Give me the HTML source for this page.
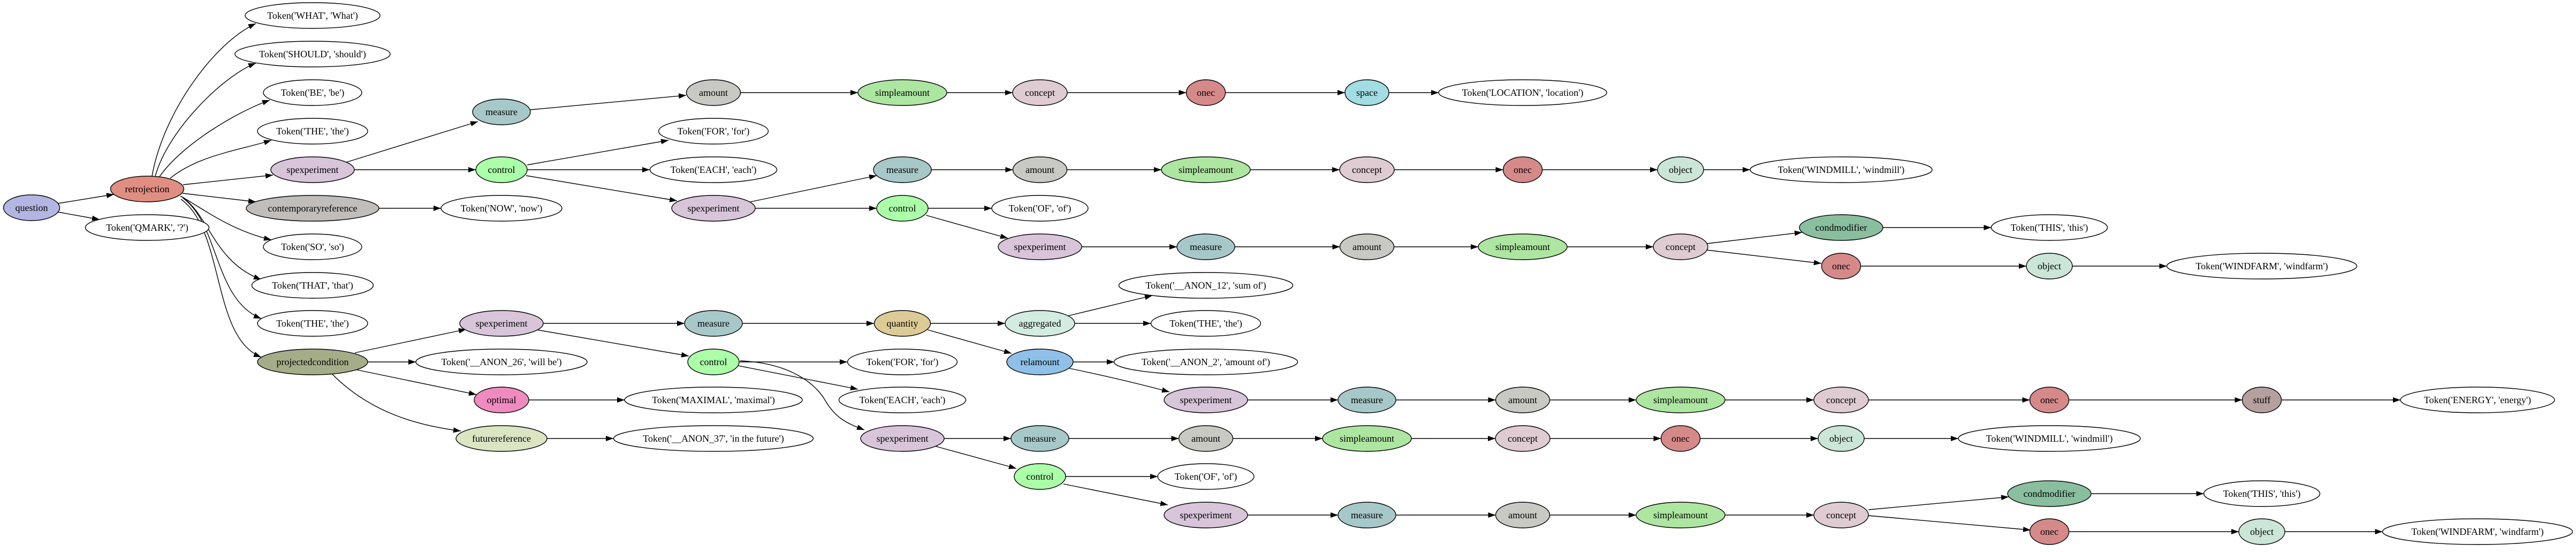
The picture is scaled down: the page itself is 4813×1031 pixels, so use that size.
<!DOCTYPE html>
<html><head><meta charset="utf-8"><style>
html,body{margin:0;padding:0;background:#fff;}
svg{display:block;}
text{font-family:"Liberation Serif",serif;font-size:18px;text-anchor:middle;fill:#000;}
ellipse{stroke:#000;stroke-width:1.4;}
path.e,line{stroke:#000;stroke-width:1.4;fill:none;}
</style></head><body>
<svg width="4813" height="1031" viewBox="0 0 4813 1031" xmlns="http://www.w3.org/2000/svg">
<defs><marker id="a" viewBox="0 0 14 10" refX="14" refY="5" markerWidth="14" markerHeight="10" markerUnits="userSpaceOnUse" orient="auto"><path d="M0,0L14,5L0,10z" fill="#000"/></marker></defs>
<g marker-end="url(#a)">
<line x1="108" y1="380" x2="213" y2="363"/>
<line x1="108" y1="396" x2="186" y2="410"/>
<path class="e" d="M284,329 C305,210 400,80 478,44"/>
<path class="e" d="M290,329 C315,240 420,140 478,118"/>
<path class="e" d="M298,330 C340,270 440,210 504,187"/>
<path class="e" d="M318,333 C370,290 450,280 507,262"/>
<line x1="342" y1="345" x2="510" y2="327"/>
<line x1="341" y1="361" x2="478" y2="377"/>
<path class="e" d="M337,366 C380,390 430,430 507,448"/>
<path class="e" d="M340,368 C390,400 400,490 488,522"/>
<path class="e" d="M342,370 C410,420 400,560 488,595"/>
<path class="e" d="M338,372 C420,430 395,630 488,667"/>
<line x1="647" y1="303" x2="893" y2="227"/>
<line x1="662" y1="317" x2="889" y2="317"/>
<line x1="985" y1="308" x2="1249" y2="262"/>
<line x1="985" y1="317" x2="1214" y2="317"/>
<line x1="983" y1="328" x2="1265" y2="375"/>
<line x1="991" y1="205" x2="1282" y2="178"/>
<line x1="708" y1="389" x2="824" y2="389"/>
<line x1="1402" y1="377" x2="1638" y2="328"/>
<line x1="1411" y1="389" x2="1638" y2="389"/>
<line x1="1734" y1="389" x2="1853" y2="389"/>
<line x1="1730" y1="402" x2="1883" y2="445"/>
<line x1="3189" y1="455" x2="3367" y2="434"/>
<line x1="3189" y1="467" x2="3403" y2="492"/>
<line x1="3491" y1="952" x2="3753" y2="928"/>
<line x1="3491" y1="963" x2="3794" y2="990"/>
<line x1="663" y1="659" x2="871" y2="615"/>
<line x1="687" y1="676" x2="777" y2="676"/>
<line x1="663" y1="690" x2="890" y2="737"/>
<path class="e" d="M619,697 C690,770 780,795 861,805"/>
<line x1="988" y1="747" x2="1167" y2="747"/>
<line x1="1022" y1="819" x2="1146" y2="819"/>
<line x1="1015" y1="604" x2="1279" y2="604"/>
<line x1="1003" y1="616" x2="1287" y2="665"/>
<line x1="1387" y1="604" x2="1633" y2="604"/>
<line x1="1739" y1="604" x2="1878" y2="604"/>
<line x1="1733" y1="616" x2="1890" y2="660"/>
<line x1="1995" y1="590" x2="2153" y2="552"/>
<line x1="2008" y1="604" x2="2150" y2="604"/>
<line x1="2005" y1="676" x2="2082" y2="676"/>
<path class="e" d="M1998,688 C2080,705 2140,720 2185,732"/>
<line x1="1381" y1="676" x2="1583" y2="676"/>
<line x1="1379" y1="683" x2="1603" y2="727"/>
<path class="e" d="M1383,674 C1480,678 1525,720 1540,745 C1560,780 1580,790 1615,803"/>
<line x1="1764" y1="819" x2="1889" y2="819"/>
<line x1="1746" y1="833" x2="1899" y2="875"/>
<line x1="1991" y1="890" x2="2163" y2="890"/>
<line x1="1987" y1="904" x2="2182" y2="943"/>
<!-- chains -->
<line x1="1383.5" y1="173" x2="1603" y2="173"/>
<line x1="1769" y1="173" x2="1892" y2="173"/>
<line x1="1994" y1="173" x2="2216.5" y2="173"/>
<line x1="2289.5" y1="173" x2="2513" y2="173"/>
<line x1="2595" y1="173" x2="2688" y2="173"/>
<line x1="1740" y1="317" x2="1892.5" y2="317"/>
<line x1="1993.5" y1="317" x2="2170" y2="317"/>
<line x1="2336" y1="317" x2="2503" y2="317"/>
<line x1="2605" y1="317" x2="2808.5" y2="317"/>
<line x1="2881.5" y1="317" x2="3097" y2="317"/>
<line x1="3183" y1="317" x2="3270" y2="317"/>
<line x1="2021" y1="461" x2="2199" y2="461"/>
<line x1="2307" y1="461" x2="2503.5" y2="461"/>
<line x1="2604.5" y1="461" x2="2762" y2="461"/>
<line x1="2928" y1="461" x2="3089" y2="461"/>
<line x1="3518" y1="425" x2="3720.5" y2="425"/>
<line x1="3476.5" y1="497" x2="3786" y2="497"/>
<line x1="3872" y1="497" x2="4048.5" y2="497"/>
<line x1="2331" y1="747" x2="2500" y2="747"/>
<line x1="2608" y1="747" x2="2794.5" y2="747"/>
<line x1="2895.5" y1="747" x2="3057" y2="747"/>
<line x1="3223" y1="747" x2="3389" y2="747"/>
<line x1="3491" y1="747" x2="3792.5" y2="747"/>
<line x1="3865.5" y1="747" x2="4189.5" y2="747"/>
<line x1="4262.5" y1="747" x2="4485" y2="747"/>
<line x1="1997" y1="819" x2="2202.5" y2="819"/>
<line x1="2303.5" y1="819" x2="2471" y2="819"/>
<line x1="2637" y1="819" x2="2794" y2="819"/>
<line x1="2896" y1="819" x2="3103.5" y2="819"/>
<line x1="3176.5" y1="819" x2="3397" y2="819"/>
<line x1="3483" y1="819" x2="3659" y2="819"/>
<line x1="2331" y1="962" x2="2500" y2="962"/>
<line x1="2608" y1="962" x2="2794.5" y2="962"/>
<line x1="2895.5" y1="962" x2="3057" y2="962"/>
<line x1="3223" y1="962" x2="3389" y2="962"/>
<line x1="3907" y1="922" x2="4117.5" y2="922"/>
<line x1="3865.5" y1="993" x2="4183" y2="993"/>
<line x1="4269" y1="993" x2="4451.5" y2="993"/>
</g>

<!-- nodes -->
<ellipse cx="59" cy="388" rx="52.5" ry="24" fill="#b2b6e0"/><text x="59" y="394">question</text>
<ellipse cx="275" cy="353" rx="68.5" ry="24" fill="#e08e82"/><text x="275" y="359">retrojection</text>
<ellipse cx="275" cy="425" rx="115.5" ry="24" fill="#fff"/><text x="275" y="431">Token('QMARK', '?')</text>

<ellipse cx="584" cy="29" rx="126" ry="24" fill="#fff"/><text x="584" y="35">Token('WHAT', 'What')</text>
<ellipse cx="584" cy="101" rx="145" ry="24" fill="#fff"/><text x="584" y="107">Token('SHOULD', 'should')</text>
<ellipse cx="584" cy="173" rx="92" ry="24" fill="#fff"/><text x="584" y="179">Token('BE', 'be')</text>
<ellipse cx="584" cy="245" rx="103" ry="24" fill="#fff"/><text x="584" y="251">Token('THE', 'the')</text>
<ellipse cx="584" cy="317" rx="78" ry="24" fill="#d8c5da"/><text x="584" y="323">spexperiment</text>
<ellipse cx="584" cy="389" rx="124" ry="24" fill="#c0bdbb"/><text x="584" y="395">contemporaryreference</text>
<ellipse cx="584" cy="461" rx="92" ry="24" fill="#fff"/><text x="584" y="467">Token('SO', 'so')</text>
<ellipse cx="584" cy="533" rx="113.5" ry="24" fill="#fff"/><text x="584" y="539">Token('THAT', 'that')</text>
<ellipse cx="584" cy="604" rx="103" ry="24" fill="#fff"/><text x="584" y="610">Token('THE', 'the')</text>
<ellipse cx="584" cy="676" rx="103" ry="24" fill="#a5ad88"/><text x="584" y="682">projectedcondition</text>

<ellipse cx="937" cy="209" rx="54" ry="24" fill="#a7c8c8"/><text x="937" y="215">measure</text>
<ellipse cx="937" cy="317" rx="48" ry="24" fill="#aaffa8"/><text x="937" y="323">control</text>
<ellipse cx="937" cy="389" rx="113" ry="24" fill="#fff"/><text x="937" y="395">Token('NOW', 'now')</text>
<ellipse cx="937" cy="604" rx="78" ry="24" fill="#d8c5da"/><text x="937" y="610">spexperiment</text>
<ellipse cx="937" cy="676" rx="160" ry="24" fill="#fff"/><text x="937" y="682">Token('__ANON_26', 'will be')</text>
<ellipse cx="937" cy="747" rx="51" ry="24" fill="#f08bc0"/><text x="937" y="753">optimal</text>
<ellipse cx="937" cy="819" rx="85" ry="24" fill="#dae5c2"/><text x="937" y="825">futurereference</text>

<ellipse cx="1333" cy="173" rx="50.5" ry="24" fill="#c8c9c2"/><text x="1333" y="179">amount</text>
<ellipse cx="1333" cy="245" rx="102.5" ry="24" fill="#fff"/><text x="1333" y="251">Token('FOR', 'for')</text>
<ellipse cx="1333" cy="317" rx="118.5" ry="24" fill="#fff"/><text x="1333" y="323">Token('EACH', 'each')</text>
<ellipse cx="1333" cy="389" rx="78" ry="24" fill="#d8c5da"/><text x="1333" y="395">spexperiment</text>
<ellipse cx="1333" cy="604" rx="54" ry="24" fill="#a7c8c8"/><text x="1333" y="610">measure</text>
<ellipse cx="1333" cy="676" rx="48" ry="24" fill="#aaffa8"/><text x="1333" y="682">control</text>
<ellipse cx="1333" cy="747" rx="166" ry="24" fill="#fff"/><text x="1333" y="753">Token('MAXIMAL', 'maximal')</text>
<ellipse cx="1333" cy="819" rx="186.5" ry="24" fill="#fff"/><text x="1333" y="825">Token('__ANON_37', 'in the future')</text>

<ellipse cx="1686" cy="173" rx="83" ry="24" fill="#ade6a0"/><text x="1686" y="179">simpleamount</text>
<ellipse cx="1686" cy="317" rx="54" ry="24" fill="#a7c8c8"/><text x="1686" y="323">measure</text>
<ellipse cx="1686" cy="389" rx="48" ry="24" fill="#aaffa8"/><text x="1686" y="395">control</text>
<ellipse cx="1686" cy="604" rx="52.5" ry="24" fill="#ddcb96"/><text x="1686" y="610">quantity</text>
<ellipse cx="1686" cy="676" rx="102.5" ry="24" fill="#fff"/><text x="1686" y="682">Token('FOR', 'for')</text>
<ellipse cx="1686" cy="747" rx="118.5" ry="24" fill="#fff"/><text x="1686" y="753">Token('EACH', 'each')</text>
<ellipse cx="1686" cy="819" rx="78" ry="24" fill="#d8c5da"/><text x="1686" y="825">spexperiment</text>

<ellipse cx="1943" cy="173" rx="51" ry="24" fill="#dfcbd2"/><text x="1943" y="179">concept</text>
<ellipse cx="1943" cy="317" rx="50.5" ry="24" fill="#c8c9c2"/><text x="1943" y="323">amount</text>
<ellipse cx="1943" cy="389" rx="90" ry="24" fill="#fff"/><text x="1943" y="395">Token('OF', 'of')</text>
<ellipse cx="1943" cy="461" rx="78" ry="24" fill="#d8c5da"/><text x="1943" y="467">spexperiment</text>
<ellipse cx="1943" cy="604" rx="65" ry="24" fill="#d2ece2"/><text x="1943" y="610">aggregated</text>
<ellipse cx="1943" cy="676" rx="62" ry="24" fill="#8fc1e8"/><text x="1943" y="682">relamount</text>
<ellipse cx="1943" cy="819" rx="54" ry="24" fill="#a7c8c8"/><text x="1943" y="825">measure</text>
<ellipse cx="1943" cy="890" rx="48" ry="24" fill="#aaffa8"/><text x="1943" y="896">control</text>

<ellipse cx="2253" cy="173" rx="36.5" ry="24" fill="#d58a89"/><text x="2253" y="179">onec</text>
<ellipse cx="2253" cy="317" rx="83" ry="24" fill="#ade6a0"/><text x="2253" y="323">simpleamount</text>
<ellipse cx="2253" cy="461" rx="54" ry="24" fill="#a7c8c8"/><text x="2253" y="467">measure</text>
<ellipse cx="2253" cy="533" rx="162.5" ry="24" fill="#fff"/><text x="2253" y="539">Token('__ANON_12', 'sum of')</text>
<ellipse cx="2253" cy="604" rx="102.5" ry="24" fill="#fff"/><text x="2253" y="610">Token('THE', 'the')</text>
<ellipse cx="2253" cy="676" rx="171.5" ry="24" fill="#fff"/><text x="2253" y="682">Token('__ANON_2', 'amount of')</text>
<ellipse cx="2253" cy="747" rx="78" ry="24" fill="#d8c5da"/><text x="2253" y="753">spexperiment</text>
<ellipse cx="2253" cy="819" rx="50.5" ry="24" fill="#c8c9c2"/><text x="2253" y="825">amount</text>
<ellipse cx="2253" cy="890" rx="90" ry="24" fill="#fff"/><text x="2253" y="896">Token('OF', 'of')</text>
<ellipse cx="2253" cy="962" rx="78" ry="24" fill="#d8c5da"/><text x="2253" y="968">spexperiment</text>

<ellipse cx="2554" cy="173" rx="41" ry="24" fill="#a1dde3"/><text x="2554" y="179">space</text>
<ellipse cx="2554" cy="317" rx="51" ry="24" fill="#dfcbd2"/><text x="2554" y="323">concept</text>
<ellipse cx="2554" cy="461" rx="50.5" ry="24" fill="#c8c9c2"/><text x="2554" y="467">amount</text>
<ellipse cx="2554" cy="747" rx="54" ry="24" fill="#a7c8c8"/><text x="2554" y="753">measure</text>
<ellipse cx="2554" cy="819" rx="83" ry="24" fill="#ade6a0"/><text x="2554" y="825">simpleamount</text>
<ellipse cx="2554" cy="962" rx="54" ry="24" fill="#a7c8c8"/><text x="2554" y="968">measure</text>

<ellipse cx="2845" cy="173" rx="157" ry="24" fill="#fff"/><text x="2845" y="179">Token('LOCATION', 'location')</text>
<ellipse cx="2845" cy="317" rx="36.5" ry="24" fill="#d58a89"/><text x="2845" y="323">onec</text>
<ellipse cx="2845" cy="461" rx="83" ry="24" fill="#ade6a0"/><text x="2845" y="467">simpleamount</text>
<ellipse cx="2845" cy="747" rx="50.5" ry="24" fill="#c8c9c2"/><text x="2845" y="753">amount</text>
<ellipse cx="2845" cy="819" rx="51" ry="24" fill="#dfcbd2"/><text x="2845" y="825">concept</text>
<ellipse cx="2845" cy="962" rx="50.5" ry="24" fill="#c8c9c2"/><text x="2845" y="968">amount</text>

<ellipse cx="3140" cy="317" rx="43" ry="24" fill="#cbe5d6"/><text x="3140" y="323">object</text>
<ellipse cx="3140" cy="461" rx="51" ry="24" fill="#dfcbd2"/><text x="3140" y="467">concept</text>
<ellipse cx="3140" cy="747" rx="83" ry="24" fill="#ade6a0"/><text x="3140" y="753">simpleamount</text>
<ellipse cx="3140" cy="819" rx="36.5" ry="24" fill="#d58a89"/><text x="3140" y="825">onec</text>
<ellipse cx="3140" cy="962" rx="83" ry="24" fill="#ade6a0"/><text x="3140" y="968">simpleamount</text>

<ellipse cx="3440" cy="317" rx="170" ry="24" fill="#fff"/><text x="3440" y="323">Token('WINDMILL', 'windmill')</text>
<ellipse cx="3440" cy="425" rx="78" ry="24" fill="#89bf9f"/><text x="3440" y="431">condmodifier</text>
<ellipse cx="3440" cy="497" rx="36.5" ry="24" fill="#d58a89"/><text x="3440" y="503">onec</text>
<ellipse cx="3440" cy="747" rx="51" ry="24" fill="#dfcbd2"/><text x="3440" y="753">concept</text>
<ellipse cx="3440" cy="819" rx="43" ry="24" fill="#cbe5d6"/><text x="3440" y="825">object</text>
<ellipse cx="3440" cy="962" rx="51" ry="24" fill="#dfcbd2"/><text x="3440" y="968">concept</text>

<ellipse cx="3829" cy="425" rx="108.5" ry="24" fill="#fff"/><text x="3829" y="431">Token('THIS', 'this')</text>
<ellipse cx="3829" cy="497" rx="43" ry="24" fill="#cbe5d6"/><text x="3829" y="503">object</text>
<ellipse cx="3829" cy="747" rx="36.5" ry="24" fill="#d58a89"/><text x="3829" y="753">onec</text>
<ellipse cx="3829" cy="819" rx="170" ry="24" fill="#fff"/><text x="3829" y="825">Token('WINDMILL', 'windmill')</text>
<ellipse cx="3829" cy="922" rx="78" ry="24" fill="#89bf9f"/><text x="3829" y="928">condmodifier</text>
<ellipse cx="3829" cy="993" rx="36.5" ry="24" fill="#d58a89"/><text x="3829" y="999">onec</text>

<ellipse cx="4226" cy="497" rx="177.5" ry="24" fill="#fff"/><text x="4226" y="503">Token('WINDFARM', 'windfarm')</text>
<ellipse cx="4226" cy="747" rx="36.5" ry="24" fill="#b5a09e"/><text x="4226" y="753">stuff</text>
<ellipse cx="4226" cy="922" rx="108.5" ry="24" fill="#fff"/><text x="4226" y="928">Token('THIS', 'this')</text>
<ellipse cx="4226" cy="993" rx="43" ry="24" fill="#cbe5d6"/><text x="4226" y="999">object</text>

<ellipse cx="4629" cy="747" rx="144" ry="24" fill="#fff"/><text x="4629" y="753">Token('ENERGY', 'energy')</text>
<ellipse cx="4629" cy="993" rx="177.5" ry="24" fill="#fff"/><text x="4629" y="999">Token('WINDFARM', 'windfarm')</text>
</svg>
</body></html>
